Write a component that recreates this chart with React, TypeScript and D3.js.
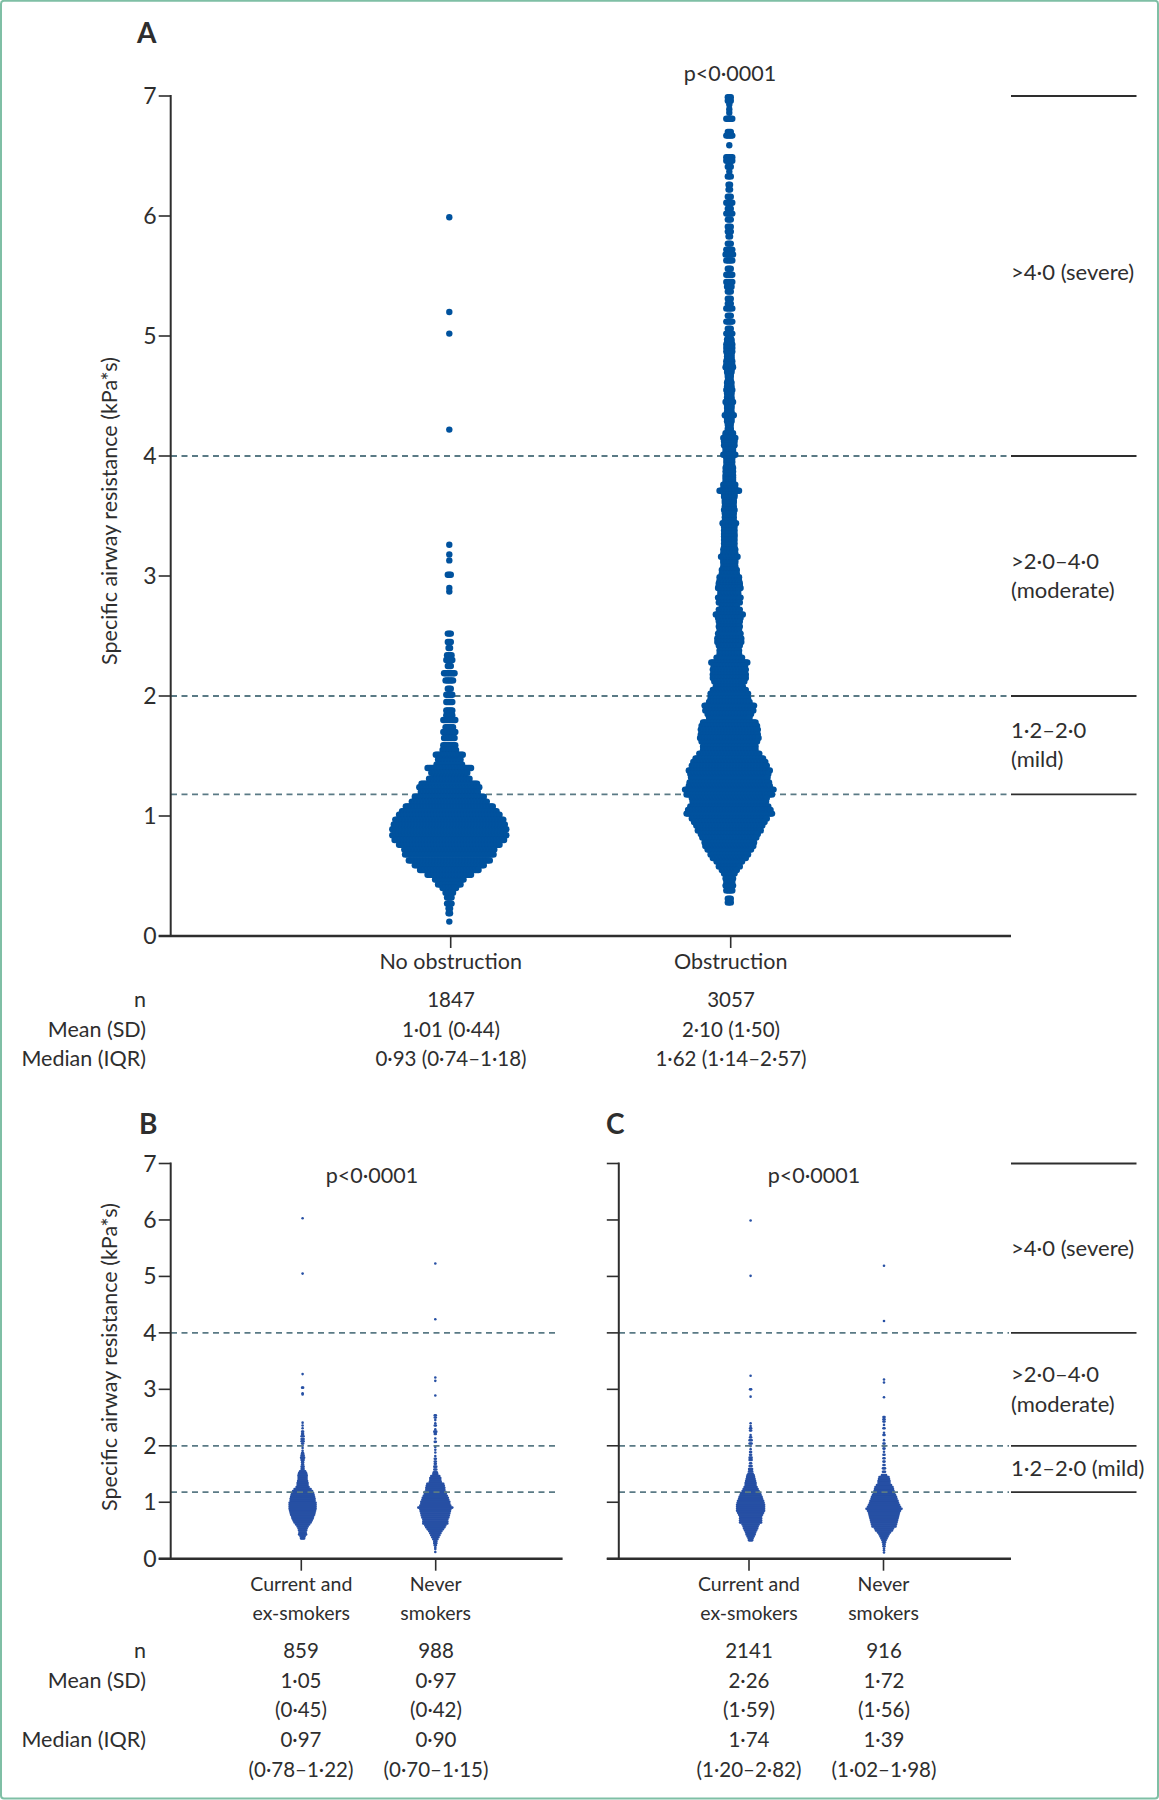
import React from "react";
import * as d3 from "d3";

// ---------- Panel A: dot rows (value of each row, dots in that row)
const noObstructionValues = [5.99,5.2,5.02,4.22,3.26,3.18,3.13,3.01,2.9,2.87,2.52,2.45,2.4,2.34,2.3,2.25,2.19,2.13,2.06,2.01,1.95,1.88,1.84,1.8,1.74,1.7,1.65,1.59,1.55,1.51,1.47,1.43,1.4,1.36,1.31,1.27,1.24,1.2,1.16,1.12,1.08,1.04,1.01,0.97,0.93,0.89,0.84,0.8,0.76,0.72,0.68,0.63,0.59,0.55,0.51,0.47,0.43,0.4,0.36,0.32,0.27,0.23,0.19,0.12];
const noObstructionCounts = [1,1,1,1,1,1,1,3,1,1,3,3,2,4,5,3,8,6,3,5,5,5,5,9,6,9,8,9,10,19,16,18,30,25,28,38,41,39,47,51,59,64,68,73,75,77,77,74,68,61,60,55,47,40,30,20,16,10,6,4,4,2,2,1];
const obstructionValues = [6.99,6.96,6.93,6.89,6.86,6.81,6.7,6.67,6.59,6.49,6.46,6.41,6.37,6.33,6.26,6.22,6.16,6.11,6.06,6.02,5.97,5.91,5.87,5.83,5.77,5.72,5.68,5.63,5.56,5.51,5.45,5.41,5.37,5.31,5.27,5.23,5.17,5.12,5.06,5.02,4.98,4.97,4.95,4.93,4.9,4.87,4.85,4.83,4.81,4.79,4.76,4.74,4.72,4.7,4.68,4.66,4.63,4.61,4.58,4.55,4.52,4.49,4.47,4.45,4.42,4.4,4.37,4.34,4.31,4.29,4.26,4.23,4.21,4.19,4.17,4.15,4.12,4.09,4.07,4.05,4.03,4.01,3.98,3.95,3.92,3.9,3.87,3.84,3.82,3.8,3.78,3.76,3.73,3.71,3.68,3.66,3.63,3.61,3.58,3.55,3.52,3.49,3.46,3.44,3.41,3.38,3.35,3.33,3.3,3.27,3.24,3.22,3.19,3.16,3.13,3.11,3.08,3.05,3.02,2.99,2.96,2.94,2.92,2.9,2.88,2.85,2.82,2.78,2.75,2.72,2.68,2.65,2.62,2.58,2.55,2.52,2.48,2.45,2.42,2.38,2.35,2.32,2.28,2.25,2.22,2.18,2.15,2.12,2.08,2.05,2.02,1.98,1.95,1.92,1.88,1.85,1.82,1.78,1.75,1.72,1.68,1.65,1.62,1.58,1.55,1.52,1.48,1.45,1.42,1.38,1.35,1.32,1.28,1.25,1.22,1.18,1.15,1.12,1.08,1.05,1.02,0.98,0.95,0.92,0.88,0.85,0.82,0.78,0.75,0.72,0.68,0.65,0.62,0.58,0.55,0.52,0.48,0.45,0.42,0.38,0.31,0.28];
const obstructionCounts = [3,3,1,1,1,5,3,5,1,5,5,3,1,3,2,2,3,5,3,5,3,3,3,2,3,5,6,5,3,5,5,4,3,3,3,5,3,5,3,5,3,4,4,5,5,5,4,4,4,5,5,6,4,4,3,3,3,4,4,5,4,4,4,6,4,4,4,7,4,4,3,3,3,6,6,9,8,8,6,6,6,9,5,5,5,6,6,6,6,6,6,9,9,14,8,8,7,7,7,8,7,7,7,10,8,8,8,8,8,8,8,9,9,12,9,9,9,11,11,14,14,15,15,16,13,13,16,15,11,15,19,16,15,15,14,16,17,17,15,14,14,18,25,22,23,23,23,21,19,23,26,26,28,34,33,30,28,36,38,39,39,40,38,36,36,41,46,49,51,55,53,52,54,55,60,58,51,50,53,56,58,51,48,45,43,39,37,34,33,30,26,23,18,15,11,8,6,5,6,5,3,3];

// ---------- Panel B
const currentBValues = [6.03,5.05,3.27,3.03,2.93,2.91,2.41,2.36,2.31,2.25,2.21,2.17,2.12,2.08,2.04,2.0,1.96,1.91,1.87,1.83,1.79,1.75,1.71,1.67,1.63,1.59,1.55,1.515,1.48,1.445,1.41,1.375,1.34,1.305,1.27,1.235,1.2,1.165,1.13,1.095,1.06,1.025,0.99,0.955,0.92,0.885,0.85,0.815,0.78,0.745,0.71,0.675,0.64,0.605,0.57,0.535,0.5,0.465,0.43,0.395,0.36];
const currentBCounts = [1,1,1,2,1,1,1,1,1,2,2,3,3,3,2,1,1,1,2,3,4,3,2,2,3,3,6,8,9,9,9,10,11,11,13,17,20,22,23,24,25,25,27,27,27,27,26,25,24,22,21,19,17,14,11,9,8,7,8,5,4];
const neverBValues = [5.23,4.24,3.21,3.15,2.89,2.54,2.5,2.455,2.4,2.36,2.29,2.25,2.21,2.13,2.07,1.98,1.93,1.88,1.82,1.77,1.72,1.68,1.63,1.58,1.53,1.5,1.465,1.43,1.395,1.36,1.325,1.29,1.255,1.22,1.185,1.15,1.115,1.08,1.045,1.01,0.975,0.94,0.905,0.87,0.835,0.8,0.765,0.73,0.695,0.66,0.625,0.59,0.555,0.52,0.485,0.45,0.415,0.38,0.345,0.31,0.275,0.24,0.2,0.17,0.12];
const neverBCounts = [1,1,1,1,1,2,2,1,1,2,1,3,2,1,2,1,1,1,1,2,2,2,3,3,4,5,9,11,11,12,17,18,19,19,21,22,24,26,27,29,29,31,35,31,30,29,28,27,25,25,25,21,19,16,13,11,9,7,5,3,3,2,1,1,1];

// ---------- Panel C
const currentCValues = [5.99,5.01,3.24,3.0,2.87,2.4,2.35,2.31,2.27,2.19,2.15,2.1,2.04,1.995,1.94,1.89,1.84,1.79,1.75,1.69,1.64,1.59,1.55,1.51,1.48,1.445,1.41,1.375,1.34,1.305,1.27,1.235,1.2,1.165,1.13,1.095,1.06,1.025,0.99,0.955,0.92,0.885,0.85,0.815,0.78,0.745,0.71,0.675,0.64,0.605,0.57,0.535,0.5,0.465,0.43,0.395,0.36,0.325];
const currentCCounts = [1,1,1,2,1,1,1,2,2,1,2,3,3,1,1,2,2,3,3,2,3,4,4,5,7,8,9,10,11,11,13,15,17,20,21,23,24,26,27,28,28,28,28,26,24,22,22,22,22,17,15,14,12,10,9,7,5,4];
const neverCValues = [5.19,4.21,3.175,3.12,2.86,2.51,2.47,2.43,2.37,2.31,2.23,2.19,2.1,2.04,1.995,1.95,1.895,1.84,1.78,1.72,1.66,1.6,1.54,1.48,1.445,1.41,1.375,1.34,1.305,1.27,1.235,1.2,1.165,1.13,1.095,1.06,1.025,0.99,0.955,0.92,0.885,0.85,0.815,0.78,0.745,0.71,0.675,0.64,0.605,0.57,0.535,0.5,0.465,0.43,0.395,0.36,0.325,0.29,0.255,0.22,0.18,0.15,0.11];
const neverCCounts = [1,1,1,1,1,2,2,2,1,2,1,2,1,2,2,2,1,2,2,2,2,3,3,5,10,11,12,12,15,18,19,20,21,23,25,26,28,29,31,33,36,33,31,30,29,28,27,26,25,24,19,17,13,10,8,6,4,3,2,2,1,1,1];

// ---------- Axes, labels, table text
const yTicks = [0, 1, 2, 3, 4, 5, 6, 7];
const thresholds = [4, 2, 1.18];
const bandEdges = [7, 4, 2, 1.18];
const catsA = ["No obstruction", "Obstruction"];
const rowLabelsA = ["n", "Mean (SD)", "Median (IQR)"];
const rowsNoObstruction = ["1847", "1·01 (0·44)", "0·93 (0·74–1·18)"];
const rowsObstruction = ["3057", "2·10 (1·50)", "1·62 (1·14–2·57)"];
const rowLabelsB = ["n", "Mean (SD)", "", "Median (IQR)", ""];
const rowsCurrentB = ["859", "1·05", "(0·45)", "0·97", "(0·78–1·22)"];
const rowsNeverB = ["988", "0·97", "(0·42)", "0·90", "(0·70–1·15)"];
const rowsCurrentC = ["2141", "2·26", "(1·59)", "1·74", "(1·20–2·82)"];
const rowsNeverC = ["916", "1·72", "(1·56)", "1·39", "(1·02–1·98)"];
const catsSmall = [["Current and", "ex-smokers"], ["Never", "smokers"]];

const FONT = "Lato, 'Noto Sans', sans-serif";
const INK = "#2e2e2e";
const DASH = "#5a7a85";
const BLUE_A = "#00529e";
const BLUE_S = "#2750a4";

function Swarm({ values, counts, x, y, r, dx, fill }: any) {
  const dots: any[] = [];
  values.forEach((v: number, i: number) => {
    const c = counts[i];
    for (let k = 0; k < c; k++) {
      dots.push(<circle key={i + "-" + k} cx={x + (k - (c - 1) / 2) * dx} cy={y(v)} r={r} />);
    }
  });
  return <g fill={fill}>{dots}</g>;
}

function YAxis({ y, x0, x1, labels }: any) {
  return (
    <g>
      <line x1={x0} x2={x0} y1={y(7) - 1} y2={y(0)} stroke={INK} strokeWidth={2} />
      <line x1={x0 - 12} x2={x1} y1={y(0)} y2={y(0)} stroke={INK} strokeWidth={2.4} />
      {yTicks.map((t) => (
        <line key={t} x1={x0 - 12} x2={x0} y1={y(t)} y2={y(t)} stroke={INK} strokeWidth={1.6} />
      ))}
      {labels && yTicks.map((t) => (
        <text key={t} x={x0 - 14} y={y(t) + 8} textAnchor="end" fontSize={23}>{t}</text>
      ))}
    </g>
  );
}

function Dashes({ y, x0, x1 }: any) {
  return (
    <g stroke={DASH} strokeWidth={1.8} strokeDasharray="6 4.5">
      {thresholds.map((t) => <line key={t} x1={x0} x2={x1} y1={y(t)} y2={y(t)} />)}
    </g>
  );
}

function BottomTicks({ xScale, y }: any) {
  return (
    <g stroke={INK} strokeWidth={1.6}>
      {xScale.domain().map((d: any) => (
        <line key={d} x1={xScale(d)} x2={xScale(d)} y1={y(0)} y2={y(0) + 12} />
      ))}
    </g>
  );
}

export default function App() {
  const yA = d3.scaleLinear().domain([0, 7]).range([936, 96]);
  const yS = d3.scaleLinear().domain([0, 7]).range([1558.7, 1163.5]);
  const xA = d3.scalePoint().domain(catsA).range([450.7, 730.7]);
  const xB = d3.scalePoint().domain(["current", "never"]).range([301.3, 435.7]);
  const xC = d3.scalePoint().domain(["current", "never"]).range([749, 883.5]);
  const tableYA = [1007, 1037, 1066];
  const tableYS = [1658, 1688, 1717, 1747, 1777];

  return (
    <svg width={1159} height={1800} viewBox="0 0 1159 1800"
      style={{ position: "absolute", left: 0, top: 0, display: "block", fontFamily: FONT, fontWeight: 400, whiteSpace: "pre" }}
      fill={INK}>
      <rect width={1159} height={1800} fill="#fff" />
      <rect x={1} y={0.8} width={1157} height={1797.6} rx={3} fill="none" stroke="#7fbfa5" strokeWidth={2} />

      {/* Panel A */}
      <text x={137} y={43} fontSize={28} fontWeight={700}>A</text>
      <Dashes y={yA} x0={171} x1={1011} />
      <Swarm values={noObstructionValues} counts={noObstructionCounts} x={xA(catsA[0])! - 1.4} y={yA} r={3.2} dx={1.5} fill={BLUE_A} />
      <Swarm values={obstructionValues} counts={obstructionCounts} x={xA(catsA[1])! - 1.4} y={yA} r={3.2} dx={1.5} fill={BLUE_A} />
      <YAxis y={yA} x0={170.7} x1={1011} labels />
      <BottomTicks xScale={xA} y={yA} />
      <text x={730} y={81} textAnchor="middle" fontSize={21.5}>p&lt;0·0001</text>
      <text transform="translate(117,511) rotate(-90)" textAnchor="middle" fontSize={21.5}>Specific airway resistance  (kPa*s)</text>
      {catsA.map((c) => <text key={c} x={xA(c)} y={969} textAnchor="middle" fontSize={21.5}>{c}</text>)}
      {rowLabelsA.map((t, i) => <text key={t} x={146} y={tableYA[i]} textAnchor="end" fontSize={21.5}>{t}</text>)}
      {rowsNoObstruction.map((t, i) => <text key={i} x={451} y={tableYA[i]} textAnchor="middle" fontSize={20.5}>{t}</text>)}
      {rowsObstruction.map((t, i) => <text key={i} x={731} y={tableYA[i]} textAnchor="middle" fontSize={20.5}>{t}</text>)}
      <g stroke={INK} strokeWidth={1.8}>
        {bandEdges.map((t) => <line key={t} x1={1011} x2={1136.5} y1={yA(t)} y2={yA(t)} />)}
      </g>
      <text x={1011} y={280} fontSize={22}>&gt;4·0 (severe)</text>
      <text x={1011} y={569} fontSize={22}>&gt;2·0–4·0</text>
      <text x={1011} y={598} fontSize={22}>(moderate)</text>
      <text x={1011} y={738} fontSize={22}>1·2–2·0</text>
      <text x={1011} y={767} fontSize={22}>(mild)</text>

      {/* Panel B */}
      <text x={139} y={1134} fontSize={28} fontWeight={700}>B</text>
      <Swarm values={currentBValues} counts={currentBCounts} x={302.6} y={yS} r={1.3} dx={1} fill={BLUE_S} />
      <Swarm values={neverBValues} counts={neverBCounts} x={435.3} y={yS} r={1.3} dx={1} fill={BLUE_S} />
      <Dashes y={yS} x0={171} x1={559} />
      <YAxis y={yS} x0={170.7} x1={562.6} labels />
      <BottomTicks xScale={xB} y={yS} />
      <text x={372} y={1183} textAnchor="middle" fontSize={21.5}>p&lt;0·0001</text>
      <text transform="translate(117,1357) rotate(-90)" textAnchor="middle" fontSize={21.5}>Specific airway resistance  (kPa*s)</text>

      {/* Panel C */}
      <text x={606} y={1134} fontSize={28} fontWeight={700}>C</text>
      <Swarm values={currentCValues} counts={currentCCounts} x={750.6} y={yS} r={1.3} dx={1} fill={BLUE_S} />
      <Swarm values={neverCValues} counts={neverCCounts} x={884} y={yS} r={1.3} dx={1} fill={BLUE_S} />
      <Dashes y={yS} x0={619} x1={1009} />
      <YAxis y={yS} x0={618.8} x1={1011} />
      <BottomTicks xScale={xC} y={yS} />
      <text x={814} y={1183} textAnchor="middle" fontSize={21.5}>p&lt;0·0001</text>
      <g stroke={INK} strokeWidth={1.8}>
        {bandEdges.map((t) => <line key={t} x1={1011} x2={1136.5} y1={yS(t)} y2={yS(t)} />)}
      </g>
      <text x={1011} y={1256} fontSize={22}>&gt;4·0  (severe)</text>
      <text x={1011} y={1382} fontSize={22}>&gt;2·0–4·0</text>
      <text x={1011} y={1412} fontSize={22}>(moderate)</text>
      <text x={1011} y={1476} fontSize={22}>1·2–2·0 (mild)</text>

      {/* Lower labels and tables of B and C */}
      {[xB, xC].map((sc, p) => sc.domain().map((d, i) => catsSmall[i].map((t, j) => (
        <text key={p + d + j} x={sc(d)} y={1591 + j * 29} textAnchor="middle" fontSize={19.5}>{t}</text>
      ))))}
      {rowLabelsB.map((t, i) => t && <text key={t} x={146} y={tableYS[i]} textAnchor="end" fontSize={21.5}>{t}</text>)}
      {[[rowsCurrentB, 301], [rowsNeverB, 436], [rowsCurrentC, 749], [rowsNeverC, 884]].map(([rows, x]: any) =>
        rows.map((t: string, i: number) => (
          <text key={x + "-" + i} x={x} y={tableYS[i]} textAnchor="middle" fontSize={20.5}>{t}</text>
        ))
      )}
    </svg>
  );
}
